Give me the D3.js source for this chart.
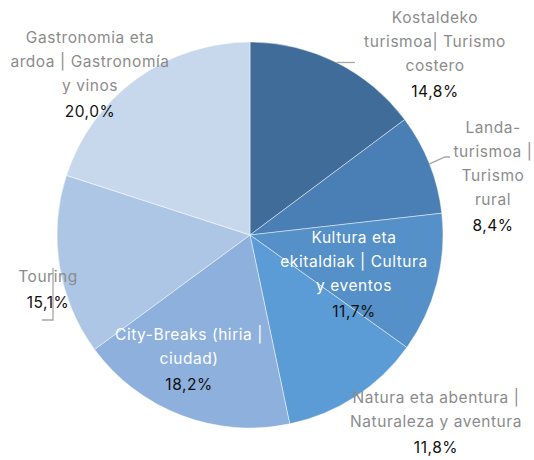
<!DOCTYPE html>
<html>
<head>
<meta charset="utf-8">
<script src="https://cdn.jsdelivr.net/npm/d3@7"></script>
<style>
  body { margin: 0; background: #fff; }
  svg text { font-family: "Inter", "Open Sans", sans-serif; font-size: 15.5px; letter-spacing: 0.55px; }
</style>
</head>
<body>
<svg class="pie-chart" width="534" height="460"></svg>
<script>
// slices, clockwise from 12 o'clock
const categories = [
  "Kostaldeko turismoa| Turismo costero",
  "Landa-turismoa | Turismo rural",
  "Kultura eta ekitaldiak | Cultura y eventos",
  "Natura eta abentura | Naturaleza y aventura",
  "City-Breaks (hiria | ciudad)",
  "Touring",
  "Gastronomia eta ardoa | Gastronomía y vinos"
];
const values = [14.8, 8.4, 11.7, 11.8, 18.2, 15.1, 20.0];
const labelLines = [
  ["Kostaldeko", "turismoa| Turismo", "costero"],
  ["Landa-", "turismoa |", "Turismo", "rural"],
  ["Kultura eta", "ekitaldiak | Cultura", "y eventos"],
  ["Natura eta abentura |", "Naturaleza y aventura"],
  ["City-Breaks (hiria |", "ciudad)"],
  ["Touring"],
  ["Gastronomia eta", "ardoa | Gastronomía", "y vinos"]
];
const colours = ["#3f6c99", "#4a7fb5", "#5590c8", "#5c9cd6", "#8db0dd", "#adc6e6", "#c7d8ed"];

const svg = d3.select(".pie-chart"),
  cx = 250,
  cy = 235,
  radius = 193,
  lineHeight = 24;

// label block placement (top line baseline), hand-tuned like the original
const labelLayout = [
  { x: 435, y: 23, fill: "#8c8c8c" },
  { x: 493, y: 133, fill: "#8c8c8c" },
  { x: 354, y: 243, fill: "#ffffff" },
  { x: 436, y: 403, fill: "#8c8c8c" },
  { x: 189, y: 340, fill: "#ffffff" },
  { x: 48, y: 282, fill: "#8c8c8c" },
  { x: 90, y: 43, fill: "#8c8c8c" }
];

const pie = d3.pie().sort(null).value((d) => d);
const arcs = pie(values);
const arc = d3.arc().innerRadius(0).outerRadius(radius);

const g = svg.append("g").attr("transform", `translate(${cx},${cy})`);

g.selectAll("path")
  .data(arcs)
  .enter()
  .append("path")
  .attr("d", arc)
  .attr("fill", (d, i) => colours[i])
  .attr("stroke", "rgba(255,255,255,0.45)")
  .attr("stroke-width", 1);

// leader lines for the outside labels
const edge = (d) => {
  const a = (d.startAngle + d.endAngle) / 2;
  return [cx + radius * Math.sin(a), cy - radius * Math.cos(a)];
};
const leaders = svg.append("g")
  .attr("fill", "none")
  .attr("stroke", "#a6a6a6")
  .attr("stroke-width", 1.3);

const p0 = edge(arcs[0]);
leaders.append("path").attr("d", `M${p0[0]},${p0[1]}H355`);
const p1 = edge(arcs[1]);
leaders.append("path").attr("d", `M${p1[0]},${p1[1]}L445,157H450`);
leaders.append("path").attr("d", "M53,268V320H42");

// labels
const label = svg.append("g")
  .selectAll("text")
  .data(arcs)
  .enter()
  .append("text")
  .attr("text-anchor", "middle")
  .attr("x", (d, i) => labelLayout[i].x)
  .attr("y", (d, i) => labelLayout[i].y);

label.each(function (d, i) {
  const t = d3.select(this);
  labelLines[i].forEach((line, j) => {
    t.append("tspan")
      .attr("x", labelLayout[i].x)
      .attr("dy", j === 0 ? 0 : lineHeight)
      .attr("fill", labelLayout[i].fill)
      .text(line);
  });
  t.append("tspan")
    .attr("x", labelLayout[i].x)
    .attr("dy", lineHeight + 2)
    .attr("fill", "#111")
    .text(d3.format(".1f")(d.data).replace(".", ",") + "%");
});
</script>
</body>
</html>
